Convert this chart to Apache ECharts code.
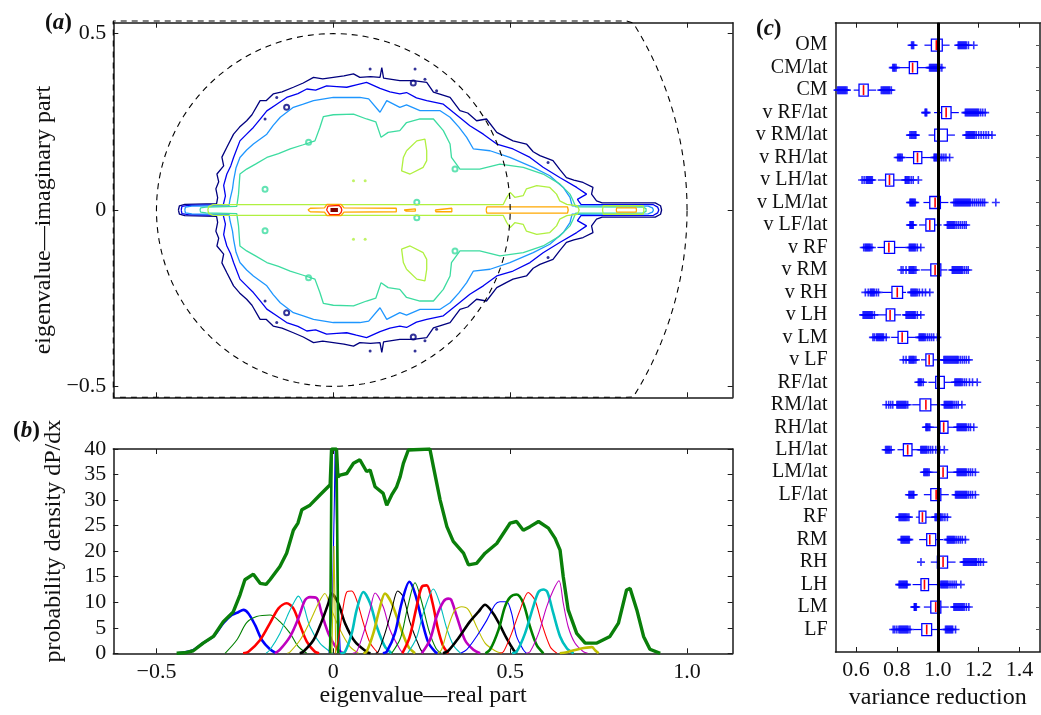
<!DOCTYPE html>
<html><head><meta charset="utf-8">
<script src="https://cdn.jsdelivr.net/npm/echarts@6/dist/echarts.min.js"></script>
<style>html,body{margin:0;padding:0;background:#fff}#c{width:1041px;height:715px}</style>
</head><body><div id="c"></div>
<script>
// ---------- shared ranges / ticks ----------
const FONT = 'Liberation Serif';
const realRange = [-0.622, 1.129];
const imagRange = [-0.531, 0.531];
const realTicks = [-0.5, 0, 0.5, 1.0];
const imagTicks = [-0.5, 0, 0.5];
const densityRange = [0, 40];
const varRange = [0.5, 1.5];
const varTicks = [0.6, 0.8, 1.0, 1.2, 1.4];
const circleRadii = [0.5, 1.0];

// ---------- panel (a): contour lines, upper halves (mirrored about the real axis) ----------
const contourNavy = [[-0.438,0],[-0.435,0.012],[-0.42,0.016],[-0.33,0.018],[-0.327,0.035],[-0.332,0.06],[-0.324,0.08],[-0.329,0.102],[-0.31,0.125],[-0.315,0.15],[-0.301,0.178],[-0.282,0.215],[-0.265,0.235],[-0.245,0.253],[-0.23,0.27],[-0.207,0.31],[-0.19,0.31],[-0.17,0.329],[-0.145,0.335],[-0.113,0.348],[-0.085,0.36],[-0.056,0.376],[-0.03,0.372],[0,0.376],[0.03,0.38],[0.057,0.386],[0.075,0.376],[0.105,0.378],[0.132,0.376],[0.137,0.404],[0.142,0.374],[0.188,0.367],[0.226,0.367],[0.264,0.362],[0.283,0.334],[0.33,0.319],[0.358,0.282],[0.38,0.275],[0.405,0.253],[0.433,0.258],[0.462,0.22],[0.49,0.205],[0.508,0.196],[0.546,0.187],[0.565,0.165],[0.584,0.154],[0.621,0.14],[0.64,0.115],[0.659,0.092],[0.68,0.085],[0.706,0.078],[0.734,0.064],[0.73,0.045],[0.744,0.026],[0.76,0.02],[0.91,0.02],[0.925,0.012],[0.928,0]];
const contourBlue = [[-0.43,0],[-0.428,0.01],[-0.41,0.013],[-0.311,0.015],[-0.305,0.04],[-0.31,0.07],[-0.301,0.102],[-0.29,0.125],[-0.282,0.149],[-0.264,0.196],[-0.245,0.215],[-0.226,0.234],[-0.205,0.26],[-0.188,0.281],[-0.16,0.3],[-0.132,0.319],[-0.1,0.33],[-0.075,0.343],[-0.05,0.34],[-0.019,0.352],[0.01,0.35],[0.038,0.348],[0.065,0.355],[0.094,0.362],[0.132,0.345],[0.16,0.335],[0.188,0.329],[0.207,0.333],[0.235,0.318],[0.264,0.31],[0.311,0.30],[0.339,0.277],[0.36,0.26],[0.386,0.239],[0.424,0.215],[0.462,0.187],[0.508,0.173],[0.556,0.149],[0.593,0.121],[0.64,0.092],[0.688,0.064],[0.716,0.045],[0.69,0.03],[0.70,0.016],[0.905,0.015],[0.917,0.008],[0.92,0]];
const contourLightBlue = [[-0.42,0],[-0.418,0.008],[-0.40,0.011],[-0.295,0.012],[-0.292,0.03],[-0.285,0.06],[-0.282,0.083],[-0.275,0.12],[-0.264,0.149],[-0.245,0.17],[-0.226,0.187],[-0.188,0.215],[-0.17,0.24],[-0.15,0.263],[-0.113,0.291],[-0.085,0.3],[-0.056,0.31],[0,0.319],[0.057,0.319],[0.075,0.319],[0.1,0.315],[0.132,0.277],[0.151,0.31],[0.188,0.291],[0.207,0.298],[0.245,0.282],[0.301,0.282],[0.33,0.263],[0.355,0.235],[0.377,0.206],[0.396,0.173],[0.443,0.168],[0.499,0.149],[0.565,0.121],[0.612,0.097],[0.65,0.064],[0.669,0.036],[0.675,0.012],[0.89,0.011],[0.902,0.006],[0.905,0]];
const contourTeal = [[-0.377,0],[-0.375,0.006],[-0.36,0.008],[-0.273,0.01],[-0.268,0.045],[-0.264,0.102],[-0.245,0.116],[-0.22,0.13],[-0.188,0.149],[-0.155,0.16],[-0.122,0.173],[-0.085,0.185],[-0.052,0.196],[-0.038,0.234],[-0.028,0.265],[0,0.27],[0.057,0.272],[0.094,0.258],[0.12,0.25],[0.135,0.206],[0.155,0.22],[0.188,0.225],[0.207,0.248],[0.245,0.258],[0.283,0.258],[0.311,0.225],[0.33,0.187],[0.334,0.149],[0.358,0.116],[0.414,0.116],[0.471,0.13],[0.537,0.121],[0.593,0.102],[0.64,0.074],[0.669,0.045],[0.678,0.026],[0.685,0.009],[0.875,0.008],[0.884,0.004],[0.886,0]];
const contourYellowGreen = [[-0.355,0],[-0.352,0.01],[-0.34,0.015],[0.48,0.015],[0.49,0.035],[0.5,0.05],[0.513,0.036],[0.537,0.041],[0.546,0.06],[0.575,0.069],[0.612,0.064],[0.631,0.045],[0.64,0.026],[0.66,0.016],[0.69,0.012],[0.695,0]];
const spikeYellowGreen = [[0.761,0],[0.763,0.012],[0.876,0.012],[0.878,0]];
const islandYellowGreen = [[0.207,0.168],[0.236,0.196],[0.259,0.201],[0.264,0.168],[0.264,0.14],[0.254,0.121],[0.217,0.102],[0.193,0.111],[0.198,0.149],[0.207,0.168]];
const contourOrange = [
  [[-0.072,0],[-0.065,0.005],[-0.025,0.006],[-0.018,0.016],[0.022,0.016],[0.03,0.006],[0.178,0.005],[0.182,0]],
  [[0.2,0],[0.205,0.003],[0.232,0.003],[0.235,0]],
  [[0.288,0],[0.29,0.005],[0.335,0.005],[0.337,0]],
  [[0.432,0],[0.434,0.009],[0.662,0.009],[0.664,0]],
  [[0.8,0],[0.801,0.006],[0.856,0.006],[0.857,0]]
];
const contourRed = [[-0.019,0],[-0.015,0.011],[-0.01,0.013],[0.016,0.013],[0.022,0.007],[0.024,0]];
const peakDarkRed = [[-0.008,0],[0.013,0]];
const dotsNavy = [[-0.16,0.319],[-0.193,0.258],[0.104,0.40],[0.231,0.40],[0.259,0.371],[0.292,0.338],[0.607,0.135]];
const loopsNavy = [[0.226,0.36],[-0.132,0.291]];
const loopsTeal = [[-0.193,0.059],[0.344,0.116],[-0.07,0.192],[0.236,0.022]];
const dotsYellowGreen = [[0.057,0.083],[0.09,0.083]];

// ---------- panel (b): density curves ----------
const bumpCurves = [
  [[-0.44,0],[-0.40,0.5],[-0.368,2.0],[-0.339,3.3],[-0.311,5.9],[-0.287,7.5],[-0.27,8.0],[-0.254,8.5],[-0.24,7.8],[-0.221,5.5],[-0.202,2.6],[-0.179,0.8],[-0.16,0]],
  [[-0.306,0],[-0.273,2.6],[-0.245,6.0],[-0.217,7.2],[-0.179,7.5],[-0.151,6.2],[-0.122,3.9],[-0.099,1.3],[-0.075,0]],
  [[-0.255,0],[-0.24,0.3],[-0.207,2.6],[-0.179,5.9],[-0.155,8.8],[-0.132,9.8],[-0.113,8.8],[-0.094,5.5],[-0.075,2.3],[-0.052,0.3],[-0.04,0]],
  [[-0.19,0],[-0.179,0.7],[-0.151,3.9],[-0.127,7.8],[-0.108,10.4],[-0.099,11.2],[-0.085,9.5],[-0.066,5.2],[-0.038,2.0],[-0.009,0.3],[0.0,0]],
  [[-0.165,0],[-0.151,0.7],[-0.122,3.3],[-0.099,6.8],[-0.08,10.4],[-0.066,11.0],[-0.047,10.8],[-0.033,7.8],[-0.014,3.9],[0.009,1.0],[0.028,0]],
  [[-0.13,0],[-0.122,0.3],[-0.094,2.6],[-0.066,6.2],[-0.042,9.8],[-0.024,11.7],[-0.005,8.5],[0.019,4.6],[0.047,1.3],[0.071,0]],
  [[-0.095,0],[-0.085,0.3],[-0.056,2.6],[-0.033,6.2],[-0.014,9.8],[-0.005,11.7],[0.014,9.8],[0.033,5.9],[0.061,2.3],[0.094,0.3],[0.105,0]],
  [[-0.012,0],[-0.002,12],[0.003,30],[0.005,40],[0.008,30],[0.012,12],[0.02,0]],
  [[-0.009,0],[-0.005,40],[0.009,40],[0.014,0]],
  [[0.005,0],[0.014,2.6],[0.028,9.1],[0.038,12.0],[0.052,12.2],[0.066,10.4],[0.085,5.9],[0.104,2.0],[0.127,0]],
  [[0.02,0],[0.033,0.3],[0.052,3.9],[0.066,8.5],[0.085,12.0],[0.104,9.8],[0.123,5.2],[0.146,1.3],[0.165,0]],
  [[0.055,0],[0.066,0.3],[0.085,3.9],[0.104,8.5],[0.118,11.8],[0.141,9.1],[0.16,4.6],[0.189,0.7],[0.198,0]],
  [[0.085,0],[0.094,0.3],[0.113,3.9],[0.13,8.5],[0.146,11.7],[0.165,9.8],[0.189,5.2],[0.212,1.3],[0.231,0]],
  [[0.12,0],[0.127,0.3],[0.146,3.9],[0.165,8.5],[0.182,12.2],[0.198,11.0],[0.217,6.0],[0.245,1.0],[0.254,0]],
  [[0.14,0],[0.151,0.3],[0.174,3.9],[0.193,9.8],[0.215,14.0],[0.231,11.7],[0.25,6.5],[0.269,2.0],[0.288,0.3],[0.295,0]],
  [[0.165,0],[0.19,3],[0.21,9],[0.231,13.8],[0.25,10],[0.27,4.5],[0.29,1],[0.305,0]],
  [[0.195,0],[0.215,3],[0.235,9],[0.25,13.0],[0.264,13.3],[0.28,10],[0.295,5],[0.31,1.5],[0.325,0]],
  [[0.21,0],[0.235,3],[0.255,8],[0.283,12.6],[0.30,10],[0.32,5],[0.34,1.5],[0.36,0]],
  [[0.25,0],[0.273,2.6],[0.292,7.2],[0.311,10.1],[0.325,10.7],[0.333,10.5],[0.349,7.2],[0.372,2.6],[0.396,0.7],[0.415,0]],
  [[0.295,0],[0.306,0.7],[0.325,5.2],[0.344,8.5],[0.363,9.1],[0.382,8.5],[0.405,5.2],[0.429,2.0],[0.457,0.5],[0.476,0]],
  [[0.31,0],[0.325,0.5],[0.353,2.9],[0.386,6.2],[0.41,8.1],[0.429,9.5],[0.452,7.8],[0.471,5.5],[0.49,2.9],[0.509,0.7],[0.518,0]],
  [[0.36,0],[0.377,0.7],[0.405,3.3],[0.434,6.5],[0.457,9.5],[0.471,10.1],[0.49,10.1],[0.504,7.8],[0.518,3.3],[0.537,0.7],[0.546,0]],
  [[0.43,0],[0.443,0.7],[0.467,4.6],[0.485,9.1],[0.5,11.0],[0.518,11.5],[0.537,9.8],[0.556,5.2],[0.575,1.6],[0.594,0]],
  [[0.47,0],[0.481,0.3],[0.504,3.9],[0.528,8.5],[0.551,11.9],[0.57,10.4],[0.589,5.9],[0.613,1.3],[0.632,0]],
  [[0.505,0],[0.518,0.3],[0.542,3.9],[0.565,9.1],[0.58,12.0],[0.594,12.5],[0.605,12.0],[0.622,7.8],[0.641,3.3],[0.66,1.0],[0.679,0]],
  [[0.545,0],[0.556,0.3],[0.58,3.9],[0.603,9.1],[0.622,12.4],[0.638,14.2],[0.65,9.8],[0.664,5.2],[0.683,2.0],[0.707,0.3],[0.719,0]],
  [[0.64,0],[0.66,0.2],[0.698,0.9],[0.731,1.2],[0.74,0.6],[0.75,0]]
];
const spikeYellow = [[-0.004,0],[0.002,21],[0.007,0]];
const totalDensity = [[-0.443,0],[-0.42,0.1],[-0.396,0.5],[-0.368,2.0],[-0.339,3.3],[-0.311,6.2],[-0.283,8.1],[-0.264,11.4],[-0.25,14.4],[-0.226,15.5],[-0.207,13.7],[-0.19,13.5],[-0.179,14.4],[-0.151,17.0],[-0.132,19.6],[-0.113,24.1],[-0.1,25.5],[-0.089,28.1],[-0.066,29.0],[-0.038,31.0],[-0.009,33.0],[-0.005,40],[0.009,40],[0.013,34.5],[0.019,34.9],[0.038,35.2],[0.057,37.2],[0.075,37.9],[0.094,35.6],[0.104,35.9],[0.118,32.6],[0.141,31.3],[0.151,29.0],[0.165,31.0],[0.179,32.6],[0.189,34.6],[0.198,37.2],[0.212,39.8],[0.217,40],[0.273,40],[0.283,36.5],[0.302,30.0],[0.321,24.8],[0.339,21.9],[0.368,19.6],[0.382,17.3],[0.405,17.6],[0.429,19.6],[0.462,21.5],[0.5,25.5],[0.518,25.8],[0.537,24.1],[0.556,24.8],[0.58,25.8],[0.608,24.5],[0.627,22.5],[0.641,20.2],[0.65,15.0],[0.664,8.5],[0.688,3.9],[0.712,2.0],[0.745,2.0],[0.782,3.3],[0.806,5.9],[0.829,12.4],[0.839,12.7],[0.858,8.5],[0.877,3.3],[0.895,0.8],[0.924,0]];

// ---------- panel (c): variance reduction box plots ----------
const boxCategories = ['OM','CM/lat','CM','v RF/lat','v RM/lat','v RH/lat','v LH/lat','v LM/lat','v LF/lat','v RF','v RM','v RH','v LH','v LM','v LF','RF/lat','RM/lat','RH/lat','LH/lat','LM/lat','LF/lat','RF','RM','RH','LH','LM','LF'];
// [lower whisker, q1, median, q3, upper whisker]
const boxStats = [
  [0.935,0.969,0.993,1.022,1.058],
  [0.811,0.861,0.877,0.901,0.955],
  [0.589,0.615,0.637,0.660,0.699],
  [0.982,1.019,1.041,1.065,1.103],
  [0.955,0.985,1.003,1.047,1.084],
  [0.845,0.882,0.901,0.922,0.966],
  [0.707,0.745,0.764,0.785,0.828],
  [0.930,0.961,0.987,1.013,1.052],
  [0.909,0.942,0.961,0.985,1.019],
  [0.705,0.739,0.761,0.789,0.844],
  [0.917,0.966,0.987,1.015,1.047],
  [0.728,0.776,0.802,0.828,0.845],
  [0.700,0.748,0.767,0.790,0.821],
  [0.772,0.806,0.826,0.853,0.893],
  [0.918,0.942,0.958,0.978,1.026],
  [0.954,0.990,1.006,1.032,1.071],
  [0.875,0.913,0.942,0.966,1.003],
  [0.974,1.011,1.029,1.050,1.084],
  [0.803,0.832,0.853,0.874,0.909],
  [0.974,1.006,1.026,1.047,1.087],
  [0.932,0.966,0.992,1.015,1.054],
  [0.893,0.909,0.925,0.942,0.982],
  [0.909,0.946,0.961,0.990,1.026],
  [0.966,0.998,1.026,1.048,1.087],
  [0.877,0.918,0.935,0.955,1.006],
  [0.932,0.966,0.990,1.015,1.054],
  [0.882,0.922,0.946,0.970,1.022]
];
const boxOutliers = [
  [0.872,0.877,0.882,1.100,1.105,1.110,1.115,1.120,1.125,1.130,1.135,1.140,1.150,1.176],
  [0.780,0.785,0.790,0.796,0.960,0.965,0.970,0.975,0.980,0.985,0.990,0.995,1.000,1.005,1.010,1.020],
  [0.510,0.515,0.520,0.525,0.530,0.535,0.540,0.545,0.550,0.556,0.724,0.730,0.735,0.740,0.745,0.750,0.755,0.760,0.765,0.773],
  [0.938,0.942,0.946,1.135,1.140,1.145,1.150,1.155,1.160,1.165,1.170,1.175,1.180,1.185,1.190,1.195,1.200,1.210,1.220,1.232],
  [0.864,0.870,0.876,0.882,0.888,0.893,1.139,1.145,1.150,1.155,1.160,1.165,1.170,1.175,1.180,1.188,1.200,1.212,1.224,1.236,1.248,1.265],
  [0.804,0.810,0.815,0.820,0.826,0.982,0.986,0.990,0.995,1.000,1.005,1.010,1.020,1.030,1.040,1.058],
  [0.630,0.640,0.650,0.655,0.660,0.665,0.670,0.675,0.680,0.841,0.845,0.850,0.855,0.860,0.870,0.880,0.905],
  [0.864,0.868,0.872,0.876,0.880,0.885,0.890,1.079,1.085,1.090,1.095,1.100,1.105,1.110,1.115,1.120,1.125,1.130,1.135,1.140,1.145,1.150,1.155,1.160,1.170,1.180,1.190,1.200,1.210,1.220,1.229,1.284],
  [0.864,0.868,0.872,0.876,0.880,1.047,1.052,1.057,1.062,1.067,1.072,1.077,1.082,1.090,1.100,1.110,1.120,1.130,1.139],
  [0.638,0.645,0.650,0.655,0.660,0.665,0.670,0.678,0.861,0.866,0.871,0.876,0.881,0.886,0.891,0.900,0.917],
  [0.821,0.830,0.845,0.860,0.865,0.870,0.875,0.880,0.885,0.893,1.071,1.076,1.081,1.086,1.091,1.096,1.101,1.106,1.111,1.116,1.121,1.130,1.140,1.149],
  [0.646,0.660,0.670,0.675,0.680,0.685,0.690,0.700,0.710,0.869,0.874,0.879,0.884,0.889,0.894,0.900,0.910,0.925,0.940,0.961],
  [0.635,0.640,0.645,0.650,0.655,0.660,0.665,0.670,0.675,0.680,0.690,0.845,0.850,0.855,0.860,0.865,0.870,0.875,0.880,0.885,0.890,0.900,0.917],
  [0.683,0.690,0.700,0.705,0.710,0.715,0.720,0.725,0.730,0.735,0.748,0.909,0.914,0.919,0.924,0.929,0.934,0.940,0.950,0.960,0.970,0.980,0.998],
  [0.832,0.845,0.860,0.865,0.870,0.875,0.880,0.885,0.893,1.030,1.035,1.040,1.045,1.050,1.055,1.060,1.065,1.070,1.075,1.080,1.085,1.090,1.095,1.100,1.110,1.120,1.130,1.140,1.152],
  [0.905,0.910,0.915,0.920,0.929,1.084,1.089,1.094,1.099,1.104,1.109,1.114,1.120,1.130,1.140,1.155,1.170,1.193],
  [0.748,0.760,0.770,0.780,0.800,0.805,0.810,0.815,0.820,0.825,0.830,0.835,0.840,0.845,0.853,1.032,1.037,1.042,1.047,1.052,1.057,1.062,1.067,1.072,1.080,1.090,1.100,1.118],
  [0.942,0.946,0.950,0.955,0.961,1.095,1.100,1.105,1.110,1.115,1.120,1.125,1.130,1.135,1.140,1.150,1.160,1.176],
  [0.745,0.750,0.755,0.760,0.765,0.772,0.917,0.922,0.927,0.932,0.937,0.942,0.947,0.955,0.965,0.975,0.990,1.010,1.032],
  [0.932,0.937,0.942,0.947,0.952,0.958,1.095,1.100,1.105,1.110,1.115,1.120,1.125,1.130,1.135,1.140,1.150,1.160,1.170,1.184],
  [0.859,0.864,0.869,0.874,0.879,0.883,1.087,1.092,1.097,1.102,1.107,1.112,1.117,1.122,1.127,1.132,1.137,1.142,1.150,1.160,1.170,1.184],
  [0.811,0.816,0.821,0.826,0.831,0.836,0.841,0.846,0.852,0.859,0.987,0.992,0.997,1.002,1.007,1.012,1.017,1.025,1.035,1.047],
  [0.821,0.826,0.831,0.836,0.841,0.846,0.851,0.856,0.861,1.047,1.052,1.057,1.062,1.067,1.072,1.077,1.082,1.090,1.100,1.110,1.120,1.135],
  [0.918,1.126,1.131,1.136,1.141,1.146,1.151,1.156,1.161,1.166,1.171,1.176,1.181,1.186,1.190,1.200,1.210,1.223],
  [0.811,0.816,0.821,0.826,0.831,0.836,0.841,0.846,0.850,1.015,1.020,1.025,1.030,1.035,1.040,1.045,1.050,1.060,1.070,1.080,1.090,1.113],
  [0.885,0.888,0.891,0.895,1.079,1.084,1.089,1.094,1.099,1.104,1.109,1.114,1.119,1.124,1.130,1.140,1.152],
  [0.782,0.790,0.800,0.810,0.815,0.820,0.825,0.830,0.835,0.840,0.845,0.850,0.855,0.864,1.038,1.043,1.048,1.053,1.058,1.063,1.068,1.073,1.087]
];

// ---------- helpers ----------
function closeMirror(up){ return up.concat(up.slice(0,-1).reverse().map(p=>[p[0],-p[1]])); }
function flipY(pts){ return pts.map(p=>[p[0],-p[1]]); }
function fmtNum(v){ if (v === 0) return '0'; const s = Math.abs(v).toFixed(1); return v < 0 ? '\u2212' + s : s; }
function circlePoints(r){
  const pts = [];
  for (let a = 0; a <= 360; a += 2) {
    const t = a * Math.PI / 180;
    let x = r * Math.cos(t), y = r * Math.sin(t);
    x = Math.max(x, realRange[0]);
    y = Math.min(Math.max(y, imagRange[0]), 0.536);
    pts.push([x, y]);
  }
  return pts;
}

const axisLineStyle = {show:true, onZero:false, lineStyle:{color:'#1a1a1a', width:1.5}};
const tickIn = (vals) => ({show:true, inside:true, length:5, lineStyle:{color:'#1a1a1a', width:1}, customValues: vals});
const labelStyle = {fontFamily: FONT, fontSize: 22, color:'#111'};
const nameStyle = {fontFamily: FONT, fontSize: 24, color:'#111'};

const contourColors = {navy:'#00007F', blue:'#0000F0', light:'#1E96FF', teal:'#3CDCA0', yg:'#B0F040', orange:'#FFA800', red:'#FF1E00', dark:'#7F0000'};
const cycleColors = ['#0000FF','#008000','#FF0000','#00BFBF','#BF00BF','#BFBF00','#000000'];

function lineSer(data, color, width, xi, yi, extra){
  return Object.assign({type:'line', xAxisIndex:xi, yAxisIndex:yi, data:data, showSymbol:false, symbol:'none',
    lineStyle:{color:color, width:width}, itemStyle:{color:color}, silent:true, animation:false}, extra || {});
}

const series = [];
// panel a
series.push(lineSer(closeMirror(contourNavy), contourColors.navy, 1.3, 0, 0));
series.push(lineSer(closeMirror(contourBlue), contourColors.blue, 1.3, 0, 0));
series.push(lineSer(closeMirror(contourLightBlue), contourColors.light, 1.3, 0, 0));
series.push(lineSer(closeMirror(contourTeal), contourColors.teal, 1.3, 0, 0));
series.push(lineSer(closeMirror(contourYellowGreen), contourColors.yg, 1.3, 0, 0));
series.push(lineSer(closeMirror(spikeYellowGreen), contourColors.yg, 1.3, 0, 0));
series.push(lineSer(islandYellowGreen, contourColors.yg, 1.3, 0, 0));
series.push(lineSer(flipY(islandYellowGreen), contourColors.yg, 1.3, 0, 0));
contourOrange.forEach(o => series.push(lineSer(closeMirror(o), contourColors.orange, 1.3, 0, 0)));
series.push(lineSer(closeMirror(contourRed), contourColors.red, 1.3, 0, 0));
series.push(lineSer(peakDarkRed, contourColors.dark, 4, 0, 0));
series.push({type:'scatter', xAxisIndex:0, yAxisIndex:0, data: dotsNavy.concat(flipY(dotsNavy)), symbolSize:3, itemStyle:{color:contourColors.navy}, silent:true, animation:false});
series.push({type:'scatter', xAxisIndex:0, yAxisIndex:0, data: loopsNavy.concat(flipY(loopsNavy)), symbol:'emptyCircle', symbolSize:5, itemStyle:{color:contourColors.navy, borderWidth:1.2}, silent:true, animation:false});
series.push({type:'scatter', xAxisIndex:0, yAxisIndex:0, data: loopsTeal.concat(flipY(loopsTeal)), symbol:'emptyCircle', symbolSize:5, itemStyle:{color:contourColors.teal, borderWidth:1.2}, silent:true, animation:false});
series.push({type:'scatter', xAxisIndex:0, yAxisIndex:0, data: dotsYellowGreen.concat(flipY(dotsYellowGreen)), symbolSize:3, itemStyle:{color:contourColors.yg}, silent:true, animation:false});
circleRadii.forEach(r => series.push(lineSer(circlePoints(r), '#000', 1.1, 0, 0, {lineStyle:{color:'#000', width:1.1, type:[6,5]}, clip:false})));

// panel b
bumpCurves.forEach((pts, i) => {
  const spike = (i === 7 || i === 8);
  series.push(lineSer(pts, cycleColors[i % 7], i % 2 === 0 ? 2.6 : 1.1, 2, 2, {smooth: spike ? false : 0.3}));
});
series.push(lineSer(spikeYellow, cycleColors[5], 1.1, 2, 2));
series.push(lineSer(totalDensity, '#0A7F0A', 3.4, 2, 2));

// panel c
const boxData = boxStats.map((s, i) => [i + 1].concat(s));
series.push({
  type:'custom', xAxisIndex:4, yAxisIndex:4, data: boxData, silent:true, animation:false,
  encode:{x:[1,2,3,4,5], y:0},
  renderItem: function(params, api){
    const c = api.value(0);
    const pLo = api.coord([api.value(1), c]);
    const pQ1 = api.coord([api.value(2), c]);
    const pMd = api.coord([api.value(3), c]);
    const pQ3 = api.coord([api.value(4), c]);
    const pHi = api.coord([api.value(5), c]);
    const h = 12;
    const blue = '#0000FF';
    return {type:'group', children:[
      {type:'line', shape:{x1:pLo[0], y1:pLo[1], x2:pQ1[0], y2:pQ1[1]}, style:{stroke:blue, lineWidth:1.2}},
      {type:'line', shape:{x1:pQ3[0], y1:pQ3[1], x2:pHi[0], y2:pHi[1]}, style:{stroke:blue, lineWidth:1.2}},
      {type:'rect', shape:{x:pQ1[0], y:pQ1[1]-h/2, width:pQ3[0]-pQ1[0], height:h}, style:{fill:'#fff', stroke:blue, lineWidth:1.3}},
      {type:'line', shape:{x1:pMd[0], y1:pMd[1]-h/2+1, x2:pMd[0], y2:pMd[1]+h/2-1}, style:{stroke:'#FF0000', lineWidth:1.6}}
    ]};
  }
});
const outlierPoints = [];
boxOutliers.forEach((arr, i) => arr.forEach(v => outlierPoints.push([v, i + 1])));
series.push({
  type:'scatter', xAxisIndex:4, yAxisIndex:4, data: outlierPoints, silent:true, animation:false,
  symbol:'path://M0 5 L10 5 M5 0 L5 10', symbolSize:8,
  itemStyle:{color:'rgba(0,0,0,0)', borderColor:'#0000FF', borderWidth:1.6},
  markLine:{silent:true, symbol:'none', animation:false, label:{show:false},
    lineStyle:{color:'#000', width:3, type:'solid'}, data:[{xAxis:1.0}]}
});

const cats = [''].concat(boxCategories, ['']);
const titleRich = {p:{fontFamily:FONT,fontSize:23,color:'#111'}, i:{fontFamily:FONT,fontSize:23,fontStyle:'italic',color:'#111'}};

const option = {
  backgroundColor:'#fff',
  animation:false,
  title:[
    {text:'{p|(}{i|a}{p|)}', left:40, top:7, textStyle:{rich:titleRich}},
    {text:'{p|(}{i|b}{p|)}', left:8, top:415, textStyle:{rich:titleRich}},
    {text:'{p|(}{i|c}{p|)}', left:751, top:13, textStyle:{rich:titleRich}}
  ],
  grid:[
    {left:113.3, top:22.7, width:619.4, height:374.6},
    {left:113.3, top:449, width:619.4, height:204.3},
    {left:835.5, top:22.7, width:204.5, height:630}
  ],
  xAxis:[
    {gridIndex:0, type:'value', position:'bottom', min:realRange[0], max:realRange[1], axisLine:axisLineStyle, axisTick:tickIn(realTicks), axisLabel:{show:false}, splitLine:{show:false}},
    {gridIndex:0, type:'value', position:'top', min:realRange[0], max:realRange[1], axisLine:axisLineStyle, axisTick:tickIn(realTicks), axisLabel:{show:false}, splitLine:{show:false}},
    {gridIndex:1, type:'value', position:'bottom', min:realRange[0], max:realRange[1], axisLine:axisLineStyle, axisTick:tickIn(realTicks),
      axisLabel:Object.assign({customValues:realTicks, formatter:fmtNum, margin:8}, labelStyle), splitLine:{show:false},
      name:'eigenvalue\u2014real part', nameLocation:'middle', nameGap:30, nameTextStyle:nameStyle},
    {gridIndex:1, type:'value', position:'top', min:realRange[0], max:realRange[1], axisLine:axisLineStyle, axisTick:tickIn(realTicks), axisLabel:{show:false}, splitLine:{show:false}},
    {gridIndex:2, type:'value', position:'bottom', min:varRange[0], max:varRange[1], axisLine:axisLineStyle, axisTick:tickIn(varTicks),
      axisLabel:Object.assign({customValues:varTicks, formatter:v=>v.toFixed(1), margin:7}, labelStyle), splitLine:{show:false},
      name:'variance reduction', nameLocation:'middle', nameGap:34, nameTextStyle:nameStyle},
    {gridIndex:2, type:'value', position:'top', min:varRange[0], max:varRange[1], axisLine:axisLineStyle, axisTick:tickIn(varTicks), axisLabel:{show:false}, splitLine:{show:false}}
  ],
  yAxis:[
    {gridIndex:0, type:'value', position:'left', min:imagRange[0], max:imagRange[1], axisLine:axisLineStyle, axisTick:tickIn(imagTicks),
      axisLabel:Object.assign({customValues:imagTicks, formatter:fmtNum, margin:7}, labelStyle), splitLine:{show:false},
      name:'eigenvalue\u2014imaginary part', nameLocation:'middle', nameGap:52, nameTextStyle:Object.assign({padding:[0,20,0,0]}, nameStyle)},
    {gridIndex:0, type:'value', position:'right', min:imagRange[0], max:imagRange[1], axisLine:axisLineStyle, axisTick:tickIn(imagTicks), axisLabel:{show:false}, splitLine:{show:false}},
    {gridIndex:1, type:'value', position:'left', min:densityRange[0], max:densityRange[1], interval:5, axisLine:axisLineStyle, axisTick:{show:true, inside:true, length:5, lineStyle:{color:'#1a1a1a'}},
      axisLabel:Object.assign({margin:7}, labelStyle), splitLine:{show:false},
      name:'probability density dP/dx', nameLocation:'middle', nameGap:48, nameTextStyle:Object.assign({padding:[0,0,0,20]}, nameStyle)},
    {gridIndex:1, type:'value', position:'right', min:densityRange[0], max:densityRange[1], interval:5, axisLine:axisLineStyle, axisTick:{show:true, inside:true, length:5, lineStyle:{color:'#1a1a1a'}}, axisLabel:{show:false}, splitLine:{show:false}},
    {gridIndex:2, type:'category', position:'left', data:cats, inverse:true, boundaryGap:false, axisLine:axisLineStyle, axisTick:{show:false},
      axisLabel:{margin:8, interval:0, fontFamily:FONT, fontSize:20, color:'#111'}, splitLine:{show:false}},
    {gridIndex:2, type:'category', position:'right', data:cats, inverse:true, boundaryGap:false, axisLine:axisLineStyle, axisTick:{show:true, inside:true, length:4, interval:0, lineStyle:{color:'#555'}}, axisLabel:{show:false}, splitLine:{show:false}}
  ],
  series: series
};

const chart = echarts.init(document.getElementById('c'), null, {renderer:'canvas'});
chart.setOption(option);
</script></body></html>
